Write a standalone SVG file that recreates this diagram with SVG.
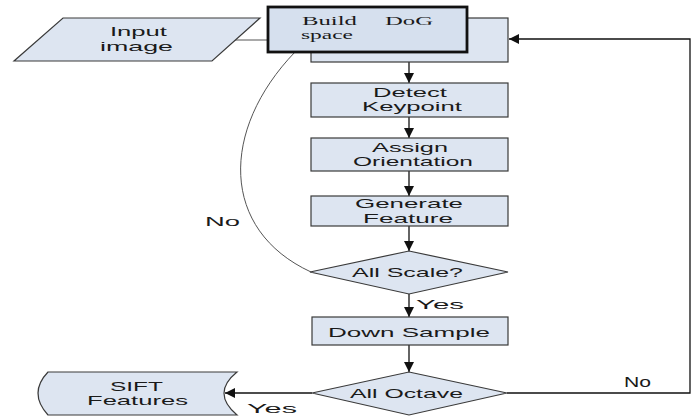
<svg xmlns="http://www.w3.org/2000/svg" width="697" height="417" viewBox="0 0 697 417">
<defs>
<marker id="ah" viewBox="0 0 10 10" refX="10" refY="5" markerWidth="10" markerHeight="10" markerUnits="userSpaceOnUse" orient="auto">
<path d="M0,0 L10,5 L0,10 Z" fill="#111"/>
</marker>
<style>
.n{fill:#dde5f1;stroke:#3a3a3a;stroke-width:1.2}
.t{font-family:"Liberation Sans",Arial,sans-serif;font-size:13.5px;fill:#1a1a1a}
.s{font-family:"Liberation Serif","Times New Roman",serif;font-size:12.5px;fill:#1a1a1a}
.c{fill:none;stroke:#111;stroke-width:1.3}
.g{fill:none;stroke:#555;stroke-width:1}
</style>
</defs>
<rect width="697" height="417" fill="#fff"/>
<g id="connectors">
<line class="g" x1="235" y1="40" x2="268" y2="40"/>
<line class="c" x1="409" y1="62" x2="409" y2="83" marker-end="url(#ah)"/>
<line class="c" x1="409" y1="117" x2="409" y2="138" marker-end="url(#ah)"/>
<line class="c" x1="409" y1="171" x2="409" y2="196" marker-end="url(#ah)"/>
<line class="c" x1="409" y1="226" x2="409" y2="251" marker-end="url(#ah)"/>
<line class="c" x1="409" y1="294" x2="409" y2="317" marker-end="url(#ah)"/>
<line class="c" x1="409" y1="345" x2="409" y2="372" marker-end="url(#ah)"/>
<polyline class="c" points="507,393 690,393 690,39 509,39" marker-end="url(#ah)"/>
<line class="c" x1="312" y1="393" x2="225" y2="393" marker-end="url(#ah)"/>
<path class="g" d="M295,52 C220,130 220,230 311,272"/>
</g>
<g id="input">
<polygon class="n" points="63,18 260,18 212,61 14,61"/>
<text class="t" x="110" y="36" textLength="57" lengthAdjust="spacingAndGlyphs">Input</text>
<text class="t" x="100" y="50.5" textLength="73" lengthAdjust="spacingAndGlyphs">image</text>
</g>
<g id="dogbase">
<rect class="n" x="311" y="18" width="197" height="44"/>
</g>
<g id="builddog">
<rect x="268" y="7" width="199" height="45" fill="#d6e0ee" stroke="#111" stroke-width="2.8"/>
<text class="s" x="302" y="25" textLength="55" lengthAdjust="spacingAndGlyphs">Build</text>
<text class="s" x="385" y="25" textLength="48" lengthAdjust="spacingAndGlyphs">DoG</text>
<text class="s" x="301" y="38.5" textLength="52" lengthAdjust="spacingAndGlyphs">space</text>
</g>
<g id="detect">
<rect class="n" x="311" y="83" width="197" height="34"/>
<text class="t" x="373" y="97" textLength="74" lengthAdjust="spacingAndGlyphs">Detect</text>
<text class="t" x="362" y="111" textLength="100" lengthAdjust="spacingAndGlyphs">Keypoint</text>
</g>
<g id="assign">
<rect class="n" x="311" y="138" width="197" height="33"/>
<text class="t" x="372" y="152" textLength="76" lengthAdjust="spacingAndGlyphs">Assign</text>
<text class="t" x="353" y="166" textLength="120" lengthAdjust="spacingAndGlyphs">Orientation</text>
</g>
<g id="generate">
<rect class="n" x="311" y="196" width="197" height="30"/>
<text class="t" x="355" y="208" textLength="108" lengthAdjust="spacingAndGlyphs">Generate</text>
<text class="t" x="363" y="223" textLength="90" lengthAdjust="spacingAndGlyphs">Feature</text>
</g>
<g id="allscale">
<polygon class="n" points="409,251 508,272 409,294 310,272"/>
<text class="t" x="352" y="277" textLength="111" lengthAdjust="spacingAndGlyphs">All Scale?</text>
</g>
<g id="downsample">
<rect class="n" x="312" y="317" width="196" height="28"/>
<text class="t" x="328" y="337" textLength="162" lengthAdjust="spacingAndGlyphs">Down Sample</text>
</g>
<g id="alloctave">
<polygon class="n" points="409,372 507,393 409,415 312,393"/>
<text class="t" x="350" y="398" textLength="113" lengthAdjust="spacingAndGlyphs">All Octave</text>
</g>
<g id="sift">
<path class="n" d="M48,372 L237,372 Q211,393 237,415 L48,415 Q28,393 48,372 Z"/>
<text class="t" x="110" y="391" textLength="53" lengthAdjust="spacingAndGlyphs">SIFT</text>
<text class="t" x="87" y="405" textLength="101" lengthAdjust="spacingAndGlyphs">Features</text>
</g>
<g id="labels">
<text class="t" x="205" y="226" textLength="35" lengthAdjust="spacingAndGlyphs">No</text>
<text class="t" x="416" y="309" textLength="48" lengthAdjust="spacingAndGlyphs">Yes</text>
<text class="t" x="624" y="387" textLength="27" lengthAdjust="spacingAndGlyphs" style="font-size:14.5px">No</text>
<text class="t" x="247" y="413" textLength="50" lengthAdjust="spacingAndGlyphs">Yes</text>
</g>
</svg>
